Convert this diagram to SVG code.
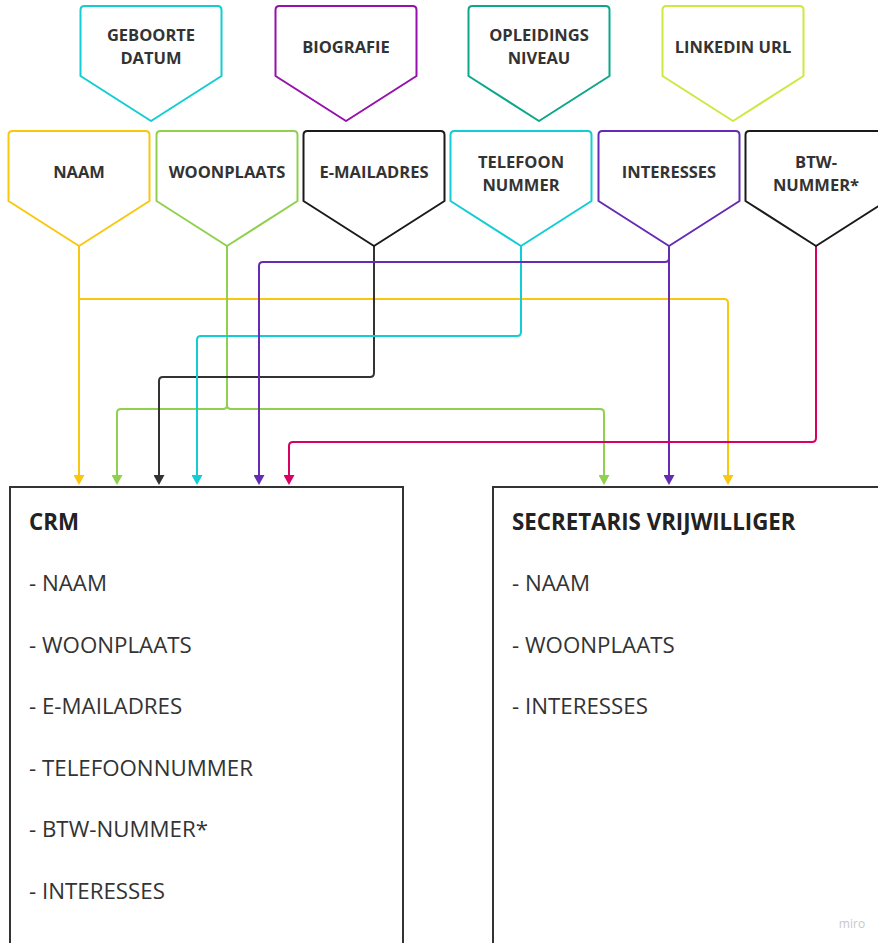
<svg xmlns="http://www.w3.org/2000/svg" xmlns:xlink="http://www.w3.org/1999/xlink" width="878" height="943" viewBox="0 0 878 943">
<style>
.shape{fill:#ffffff;stroke-width:2;stroke-linejoin:round}
.lbl{font-family:"Open Sans","Liberation Sans",sans-serif;font-weight:700;font-size:16.5px;fill:#333333;text-anchor:middle}
.conn{fill:none;stroke-width:2;stroke-linejoin:round}
.box{fill:#ffffff;stroke:#333333;stroke-width:2}
.title{font-family:"Open Sans","Liberation Sans",sans-serif;font-weight:700;font-size:22.3px;fill:#222222}
.item{font-family:"Open Sans","Liberation Sans",sans-serif;font-size:22.3px;fill:#333333}
</style>
<defs>
<path id="pent" d="M-70.5 4 Q-70.5 0 -66.5 0 H66.5 Q70.5 0 70.5 4 V70 L0 115 L-70.5 70 Z"/>
<marker id="aY" markerUnits="userSpaceOnUse" markerWidth="11" markerHeight="11" refX="6" refY="5.5" orient="auto"><path d="M0,0 L10,5.5 L0,11 Z" fill="#fac710"/></marker>
<marker id="aG" markerUnits="userSpaceOnUse" markerWidth="11" markerHeight="11" refX="6" refY="5.5" orient="auto"><path d="M0,0 L10,5.5 L0,11 Z" fill="#8fd14f"/></marker>
<marker id="aK" markerUnits="userSpaceOnUse" markerWidth="11" markerHeight="11" refX="6" refY="5.5" orient="auto"><path d="M0,0 L10,5.5 L0,11 Z" fill="#333333"/></marker>
<marker id="aT" markerUnits="userSpaceOnUse" markerWidth="11" markerHeight="11" refX="6" refY="5.5" orient="auto"><path d="M0,0 L10,5.5 L0,11 Z" fill="#12cdd4"/></marker>
<marker id="aP" markerUnits="userSpaceOnUse" markerWidth="11" markerHeight="11" refX="6" refY="5.5" orient="auto"><path d="M0,0 L10,5.5 L0,11 Z" fill="#652cb3"/></marker>
<marker id="aM" markerUnits="userSpaceOnUse" markerWidth="11" markerHeight="11" refX="6" refY="5.5" orient="auto"><path d="M0,0 L10,5.5 L0,11 Z" fill="#da0063"/></marker>
</defs>

<g id="connectors">
<path class="conn" stroke="#fac710" d="M79 246 V481" marker-end="url(#aY)"/>
<path class="conn" stroke="#fac710" d="M79 246 V299 H724 Q728 299 728 303 V481" marker-end="url(#aY)"/>
<path class="conn" stroke="#8fd14f" d="M227 246 V405 Q227 409 223 409 H121 Q117 409 117 413 V481" marker-end="url(#aG)"/>
<path class="conn" stroke="#8fd14f" d="M227 246 V405 Q227 409 231 409 H600 Q604 409 604 413 V481" marker-end="url(#aG)"/>
<path class="conn" stroke="#333333" d="M374 246 V373 Q374 377 370 377 H163 Q159 377 159 381 V481" marker-end="url(#aK)"/>
<path class="conn" stroke="#12cdd4" d="M521 246 V332 Q521 336 517 336 H201 Q197 336 197 340 V481" marker-end="url(#aT)"/>
<path class="conn" stroke="#652cb3" d="M669 246 V481" marker-end="url(#aP)"/>
<path class="conn" stroke="#652cb3" d="M669 246 V258 Q669 262 665 262 H263 Q259 262 259 266 V481" marker-end="url(#aP)"/>
<path class="conn" stroke="#da0063" d="M816 246 V438 Q816 442 812 442 H293 Q289 442 289 446 V481" marker-end="url(#aM)"/>
</g>

<g id="geboortedatum">
<use xlink:href="#pent" class="shape" stroke="#12cdd4" transform="translate(151 6)"/>
<text class="lbl" x="151" y="40.5">GEBOORTE</text>
<text class="lbl" x="151" y="64">DATUM</text>
</g>
<g id="biografie">
<use xlink:href="#pent" class="shape" stroke="#9510ac" transform="translate(346 6)"/>
<text class="lbl" x="346" y="52.5">BIOGRAFIE</text>
</g>
<g id="opleidingsniveau">
<use xlink:href="#pent" class="shape" stroke="#0ca789" transform="translate(539 6)"/>
<text class="lbl" x="539" y="40.5">OPLEIDINGS</text>
<text class="lbl" x="539" y="64">NIVEAU</text>
</g>
<g id="linkedin">
<use xlink:href="#pent" class="shape" stroke="#cee741" transform="translate(733 6)"/>
<text class="lbl" x="733" y="52.5">LINKEDIN URL</text>
</g>

<g id="naam">
<use xlink:href="#pent" class="shape" stroke="#fac710" transform="translate(79 131)"/>
<text class="lbl" x="79" y="178">NAAM</text>
</g>
<g id="woonplaats">
<use xlink:href="#pent" class="shape" stroke="#8fd14f" transform="translate(227 131)"/>
<text class="lbl" x="227" y="178">WOONPLAATS</text>
</g>
<g id="emailadres">
<use xlink:href="#pent" class="shape" stroke="#1a1a1a" transform="translate(374 131)"/>
<text class="lbl" x="374" y="178">E-MAILADRES</text>
</g>
<g id="telefoonnummer">
<use xlink:href="#pent" class="shape" stroke="#12cdd4" transform="translate(521 131)"/>
<text class="lbl" x="521" y="167.5">TELEFOON</text>
<text class="lbl" x="521" y="190.5">NUMMER</text>
</g>
<g id="interesses">
<use xlink:href="#pent" class="shape" stroke="#652cb3" transform="translate(669 131)"/>
<text class="lbl" x="669" y="178">INTERESSES</text>
</g>
<g id="btwnummer">
<use xlink:href="#pent" class="shape" stroke="#1a1a1a" transform="translate(816 131)"/>
<text class="lbl" x="816" y="167.5">BTW-</text>
<text class="lbl" x="816" y="190.5">NUMMER*</text>
</g>

<g id="crm">
<rect class="box" x="10" y="487" width="393" height="470"/>
<text class="title" x="29" y="530">CRM</text>
<text class="item" x="29" y="591">- NAAM</text>
<text class="item" x="29" y="652.5">- WOONPLAATS</text>
<text class="item" x="29" y="714">- E-MAILADRES</text>
<text class="item" x="29" y="775.5">- TELEFOONNUMMER</text>
<text class="item" x="29" y="837">- BTW-NUMMER*</text>
<text class="item" x="29" y="898.5">- INTERESSES</text>
</g>

<g id="secretaris">
<rect class="box" x="493" y="487" width="400" height="470"/>
<text class="title" x="512" y="530">SECRETARIS VRIJWILLIGER</text>
<text class="item" x="512" y="591">- NAAM</text>
<text class="item" x="512" y="652.5">- WOONPLAATS</text>
<text class="item" x="512" y="714">- INTERESSES</text>
</g>

<text x="852" y="928" font-family="'Open Sans','Liberation Sans',sans-serif" font-size="12" fill="#c8c8c8" text-anchor="middle">miro</text>
</svg>
